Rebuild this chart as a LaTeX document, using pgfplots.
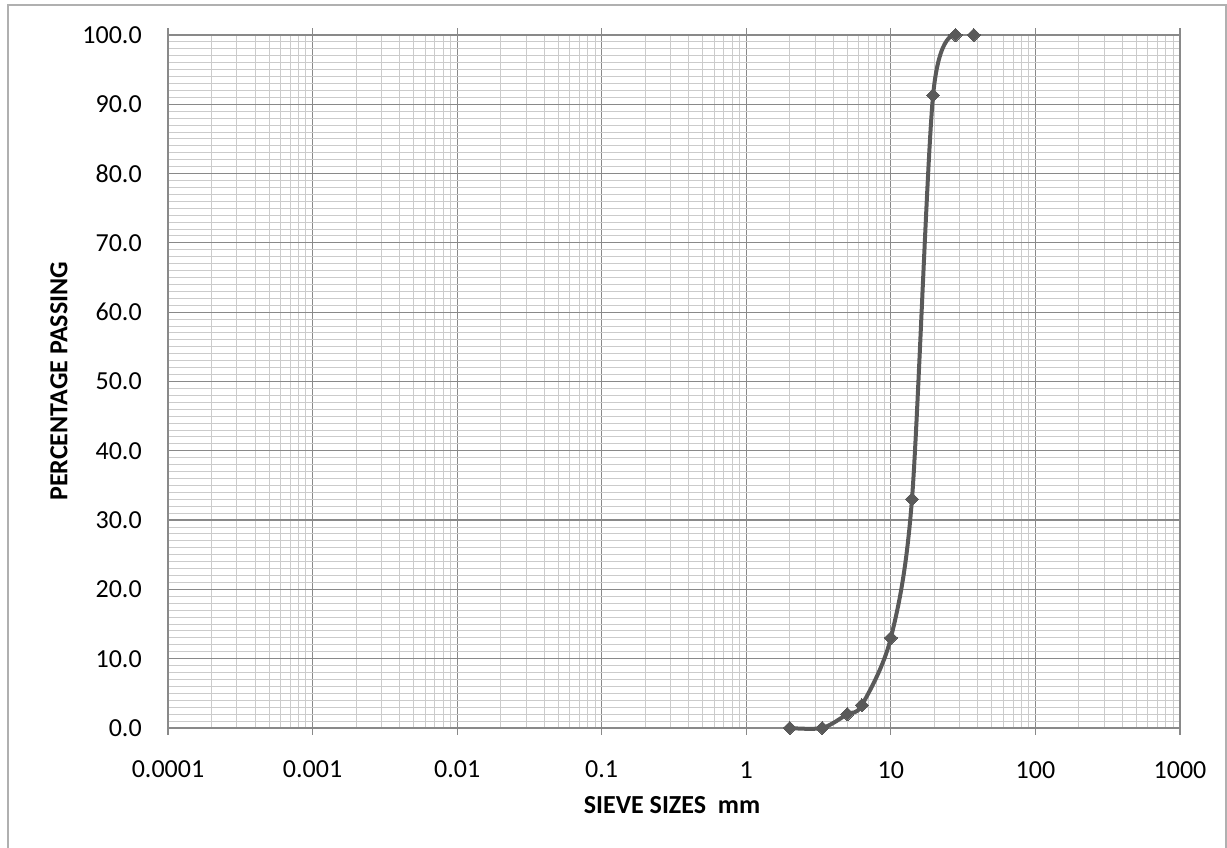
\documentclass[border=0pt]{standalone}
\usepackage{fontspec}
\setmainfont{Carlito}
\usepackage{pgfplots}
\pgfplotsset{compat=1.18}
\definecolor{majg}{HTML}{898989}
\definecolor{ming}{HTML}{CBCBCB}
\definecolor{curve}{HTML}{595959}
\definecolor{frame}{HTML}{B0B0B0}

\begin{document}
\begin{tikzpicture}
\useasboundingbox (0,0) rectangle (920.25pt,636pt);
\draw[frame, line width=1.1pt] (6pt,-20pt) -- (6pt,632.25pt) -- (919.5pt,632.25pt) -- (919.5pt,-20pt);
\begin{axis}[
  at={(126pt,90pt)}, anchor=south west,
  scale only axis, width=759pt, height=519.75pt,
  xmode=log, log basis x=10,
  xmin=0.0001, xmax=1000, ymin=0, ymax=100,
  xtick={0.0001,0.001,0.01,0.1,1,10,100,1000},
  xticklabels={0.0001,0.001,0.01,0.1,1,10,100,1000},
  minor xtick={
    0.0002,0.0003,0.0004,0.0005,0.0006,0.0007,0.0008,0.0009,
    0.002,0.003,0.004,0.005,0.006,0.007,0.008,0.009,
    0.02,0.03,0.04,0.05,0.06,0.07,0.08,0.09,
    0.2,0.3,0.4,0.5,0.6,0.7,0.8,0.9,
    2,3,4,5,6,7,8,9,
    20,30,40,50,60,70,80,90,
    200,300,400,500,600,700,800,900},
  ytick={0,10,...,100}, minor y tick num=9,
  yticklabel={\pgfmathprintnumber[fixed,zerofill,precision=1]{\tick}},
  /pgf/number format/assume math mode=true,
  xmajorgrids, xminorgrids, ymajorgrids, yminorgrids,
  major grid style={majg, line width=0.9pt},
  minor grid style={ming, line width=0.75pt},
  axis line style={majg, line width=0.9pt},
  xtick style={majg, line width=0.9pt},
  major tick length=5pt,
  xtick align=outside, minor x tick style={draw=none},
  ytick style={draw=none}, minor y tick style={draw=none},
  tick label style={font=\fontsize{19.5}{23}\selectfont, text=black},
  xticklabel style={anchor=center, inner sep=0pt, yshift=-26.25pt},
  yticklabel style={anchor=east, inner sep=0pt, xshift=-19.5pt},
  clip=false,
]
\addplot[curve, line width=3pt, smooth, tension=0.5,
  mark=square*, mark size=3.5pt, mark options={rotate=45, line width=0pt, fill=curve}]
  coordinates {(2.0,0.0) (3.35,0.0) (5.0,2.0) (6.3,3.3) (10.0,13.0) (14.0,33.0) (19.6,91.3) (28.0,100.0)};
\addplot[only marks, mark=square*, mark size=3.5pt,
  mark options={rotate=45, line width=0pt, fill=curve, draw=curve}]
  coordinates {(37.5,100.0)};
\end{axis}
\node[font=\fontsize{19.5}{23}\selectfont\bfseries] at (504pt,32.25pt) {SIEVE SIZES\ \ mm};
\node[font=\fontsize{19.5}{23}\selectfont\bfseries, rotate=90] at (44.25pt,350pt) {PERCENTAGE PASSING};
\end{tikzpicture}
\end{document}
